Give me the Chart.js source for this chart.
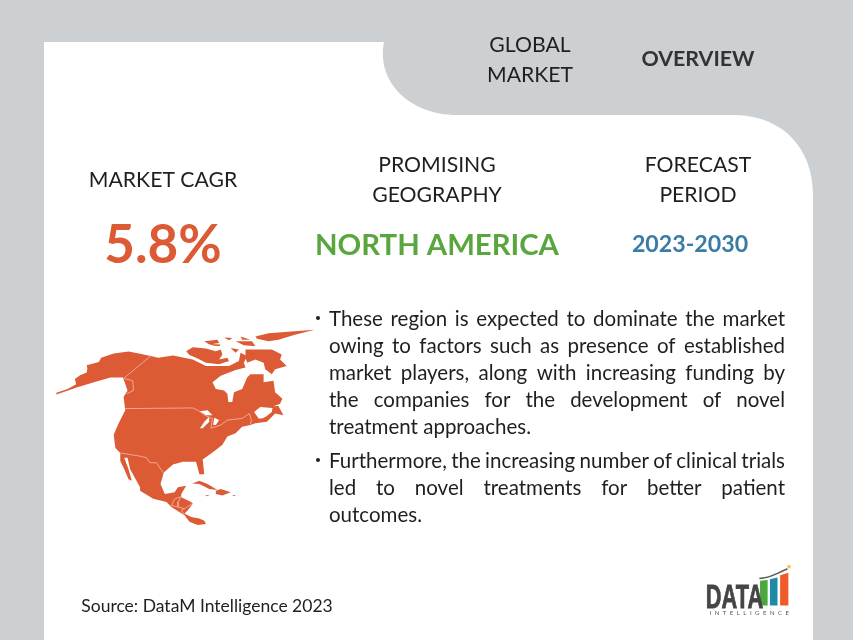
<!DOCTYPE html>
<html>
<head>
<meta charset="utf-8">
<title>Global Market Overview</title>
<script src="https://cdn.jsdelivr.net/npm/chart.js@4"></script>
<style>
html, body { margin: 0; padding: 0; background: #ccd0d3; }
canvas { display: block; }
</style>
</head>
<body>
<canvas id="c" width="853" height="640"></canvas>
<script>
// texts
var headerLines = ['GLOBAL', 'MARKET'];
var headerBold = 'OVERVIEW';
var cagrLabel = 'MARKET CAGR';
var geoLines = ['PROMISING', 'GEOGRAPHY'];
var periodLines = ['FORECAST', 'PERIOD'];
var cagrValue = '5.8%';
var geoValue = 'NORTH AMERICA';
var periodValue = '2023-2030';
var bullet1 = ['These region is expected to dominate the market', 'owing to factors such as presence of established', 'market players, along with increasing funding by', 'the companies for the development of novel', 'treatment approaches.'];
var bullet2 = ['Furthermore, the increasing number of clinical trials', 'led to novel treatments for better patient', 'outcomes.'];
var sourceText = 'Source: DataM Intelligence 2023';

// map outlines, in map units (x, y pairs)
var mainland = [36,227, 36,222, 70,210, 96,196, 92,180, 108,168, 128,160, 130,148, 128,138, 165,128, 172,115, 210,102, 255,96, 290,103, 322,110, 345,115, 390,108, 450,120, 490,140, 520,140, 560,140, 590,125, 595,100, 615,110, 605,130, 610,145, 580,152, 535,170, 510,190, 520,210, 545,215, 555,225, 558,250, 570,250, 575,220, 600,210, 615,175, 625,165, 665,165, 665,190, 695,185, 700,220, 722,240, 715,255, 695,263, 710,262, 725,290, 700,285, 675,310, 640,315, 625,320, 600,325, 580,345, 555,355, 540,380, 515,400, 480,425, 485,470, 470,470, 460,432, 420,432, 390,440, 362,465, 352,500, 365,530, 395,525, 405,510, 430,505, 415,530, 415,540, 445,555, 450,560, 435,580, 425,590, 445,600, 470,605, 485,612, 490,622, 465,625, 440,615, 425,595, 385,570, 370,555, 330,545, 290,520, 290,510, 260,455, 252,420, 242,420, 255,455, 265,490, 255,485, 240,450, 230,430, 230,405, 215,390, 210,350, 225,315, 245,275, 240,235, 252,215, 238,175, 200,175, 150,190, 100,205];
var ellesmere = [640,50, 680,40, 820,30, 760,45, 710,60, 680,65, 645,57];
var baffin = [610,90, 690,90, 720,105, 715,120, 735,140, 700,150, 690,165, 670,150, 665,130, 640,120, 615,130, 610,115];
var victoria = [430,95, 450,83, 490,87, 520,95, 535,90, 540,105, 530,120, 555,115, 560,125, 530,135, 490,130, 460,115, 440,107];
var banks = [485,65, 525,60, 530,70, 500,75];
var islandA = [545,53, 570,55, 560,62];
var islandB = [595,50, 625,60, 600,60];
var islandC = [580,65, 630,65, 640,80, 605,77];
var islandD = [565,85, 590,90, 580,100];
var islandE = [500,73, 535,75, 530,80, 510,78];
var cuba = [448,498, 470,490, 495,500, 525,518, 500,515, 470,500];
var hispaniola = [520,520, 535,515, 565,525, 540,535, 520,530];
var jamaica = [490,533, 502,535, 490,537];
var puertoRico = [570,533, 580,533, 575,537];
var gulf = [636,280, 655,265, 692,268, 690,280, 672,295, 660,300, 650,300];
var lakeSuperior = [470,278, 495,275, 510,290, 490,290];
var lakeMichigan = [500,295, 485,310, 472,330, 480,330, 500,310];
var lakeHuron = [515,298, 530,305, 520,320, 512,320];

var borderCanada = [245,270, 450,268, 465,275, 490,292, 510,300, 505,330, 535,320, 555,305, 600,300, 622,285, 628,305, 625,318];
var borderAlaska = [322,110, 240,178, 268,185, 270,215, 250,225];
var borderMexico = [230,405, 290,415, 310,420, 320,435, 340,435, 360,465];
var borderGuatemala = [385,565, 395,545, 415,538, 405,555, 405,570, 385,565];
var borderHonduras = [405,570, 425,575, 448,560];
var borderNicaragua = [425,595, 415,580, 425,575];

// logo outlines, in logo units
var logoGreen = [222,75, 245,72, 245,150, 222,150];
var logoBlue = [252,70, 275,65, 275,150, 252,150];
var logoOrange = [283,58, 308,50, 308,150, 283,150];
var logoArc = [220,68, 250,62, 280,50, 305,38];
var logoStar = [310,32];

function pairs(list) {
	var out = [];
	for (var i = 0; i < list.length; i += 2) {
		out.push({ x: list[i], y: list[i + 1] });
	}
	return out;
}

function mapShape(list, color) {
	return { data: pairs(list), xAxisID: 'mapX', yAxisID: 'mapY', fill: 'shape', backgroundColor: color, borderWidth: 0, pointRadius: 0, tension: 0 };
}

function mapLine(list) {
	return { data: pairs(list), xAxisID: 'mapX', yAxisID: 'mapY', fill: false, borderColor: '#eea892', borderWidth: 1, pointRadius: 0, tension: 0 };
}

function logoShape(list, color) {
	return { data: pairs(list), xAxisID: 'logoX', yAxisID: 'logoY', fill: 'shape', backgroundColor: color, borderWidth: 0, pointRadius: 0, tension: 0 };
}

var orange = '#dc5a34';

// first dataset is painted last
var datasets = [
	mapLine(borderCanada), mapLine(borderAlaska), mapLine(borderMexico),
	mapLine(borderGuatemala), mapLine(borderHonduras), mapLine(borderNicaragua),
	mapShape(gulf, '#fff'), mapShape(lakeSuperior, '#fff'), mapShape(lakeMichigan, '#fff'), mapShape(lakeHuron, '#fff'),
	mapShape(mainland, orange), mapShape(ellesmere, orange), mapShape(baffin, orange), mapShape(victoria, orange),
	mapShape(banks, orange), mapShape(islandA, orange), mapShape(islandB, orange), mapShape(islandC, orange),
	mapShape(islandD, orange), mapShape(islandE, orange),
	mapShape(cuba, orange), mapShape(hispaniola, orange), mapShape(jamaica, orange), mapShape(puertoRico, orange),
	logoShape(logoGreen, '#4aa83c'), logoShape(logoBlue, '#1f8aa8'), logoShape(logoOrange, '#ee5a28'),
	{ data: pairs(logoArc), xAxisID: 'logoX', yAxisID: 'logoY', fill: false, borderColor: '#555', borderWidth: 1.5, pointRadius: 0, tension: 0.4 },
	{ data: pairs(logoStar), xAxisID: 'logoX', yAxisID: 'logoY', showLine: false, pointStyle: 'star', pointRadius: 2, borderColor: '#f4b93c', backgroundColor: '#f4b93c' }
];

function hiddenAxis(min, max, reverse) {
	return { type: 'linear', display: false, min: min, max: max, reverse: !!reverse };
}

function put(ctx, text, x, y, font, color) {
	ctx.font = font;
	ctx.fillStyle = color;
	ctx.textAlign = 'center';
	ctx.textBaseline = 'middle';
	ctx.fillText(text, x, y);
}

function paragraph(ctx, lines, top) {
	var left = 329, right = 785, step = 27;
	ctx.font = '20.5px Lato';
	ctx.fillStyle = '#1f1f1f';
	ctx.textAlign = 'left';
	ctx.textBaseline = 'middle';
	ctx.beginPath();
	ctx.arc(318, top, 2, 0, Math.PI * 2);
	ctx.fill();
	for (var i = 0; i < lines.length; i++) {
		ctx.wordSpacing = '0px';
		var gaps = lines[i].split(' ').length - 1;
		var extra = (right - left - ctx.measureText(lines[i]).width) / gaps;
		// last line of a paragraph stays unjustified
		ctx.wordSpacing = (i < lines.length - 1 ? extra : 0) + 'px';
		ctx.fillText(lines[i], left, top + 1 + i * step);
	}
	ctx.wordSpacing = '0px';
}

var backdrop = {
	id: 'backdrop',
	beforeDraw: function (chart) {
		var ctx = chart.ctx;
		ctx.save();
		ctx.fillStyle = '#ccd0d3';
		ctx.fillRect(0, 0, 853, 640);
		ctx.fillStyle = '#fff';
		ctx.beginPath();
		ctx.moveTo(44, 42);
		ctx.lineTo(384, 42);
		ctx.bezierCurveTo(376, 82, 410, 115, 457, 115);
		ctx.lineTo(737, 115);
		ctx.bezierCurveTo(785, 117, 813, 150, 813, 195);
		ctx.lineTo(813, 640);
		ctx.lineTo(44, 640);
		ctx.closePath();
		ctx.fill();
		ctx.restore();
	},
	afterDraw: function (chart) {
		var ctx = chart.ctx;
		var ink = '#1f1f1f';
		var plain = '21.2px Lato';
		ctx.save();
		put(ctx, headerLines[0], 530, 45, plain, ink);
		put(ctx, headerLines[1], 530, 75, plain, ink);
		put(ctx, headerBold, 698, 59, 'bold 21.4px Lato', '#333');
		put(ctx, cagrLabel, 163, 180, plain, ink);
		put(ctx, geoLines[0], 437, 165, plain, ink);
		put(ctx, geoLines[1], 437, 195, plain, ink);
		put(ctx, periodLines[0], 698, 165, plain, ink);
		put(ctx, periodLines[1], 698, 195, plain, ink);
		put(ctx, cagrValue, 163, 246, 'bold 53px Lato', orange);
		put(ctx, geoValue, 437, 246, 'bold 29.3px Lato', '#5aa63e');
		put(ctx, periodValue, 690, 245, 'bold 23.2px Lato', '#3a7ca5');
		paragraph(ctx, bullet1, 318);
		paragraph(ctx, bullet2, 460);
		put(ctx, sourceText, 207, 606, '17.5px Lato', ink);

		// logo word is squeezed to the narrow width it has in the picture
		ctx.save();
		ctx.translate(734.5, 599);
		ctx.scale(0.66, 1);
		put(ctx, 'DATA', 0, 0, 'bold 33px "Liberation Sans"', '#454545');
		ctx.strokeStyle = '#454545';
		ctx.lineWidth = 0.8;
		ctx.strokeText('DATA', 0, 0);
		ctx.restore();
		ctx.letterSpacing = '3.5px';
		put(ctx, 'INTELLIGENCE', 751, 613, '6px Lato', '#555');
		ctx.restore();
	}
};

new Chart(document.getElementById('c'), {
	type: 'line',
	data: { datasets: datasets },
	plugins: [backdrop],
	options: {
		responsive: false,
		animation: false,
		layout: { padding: 0 },
		plugins: { legend: { display: false }, tooltip: { enabled: false }, title: { display: false } },
		scales: {
			x: hiddenAxis(0, 853),
			y: hiddenAxis(0, 640, true),
			mapX: hiddenAxis(-120, 2439),
			mapY: hiddenAxis(-960, 960, true),
			logoX: hiddenAxis(-2070, 489),
			logoY: hiddenAxis(-1680, 240, true)
		}
	}
});
</script>
</body>
</html>
